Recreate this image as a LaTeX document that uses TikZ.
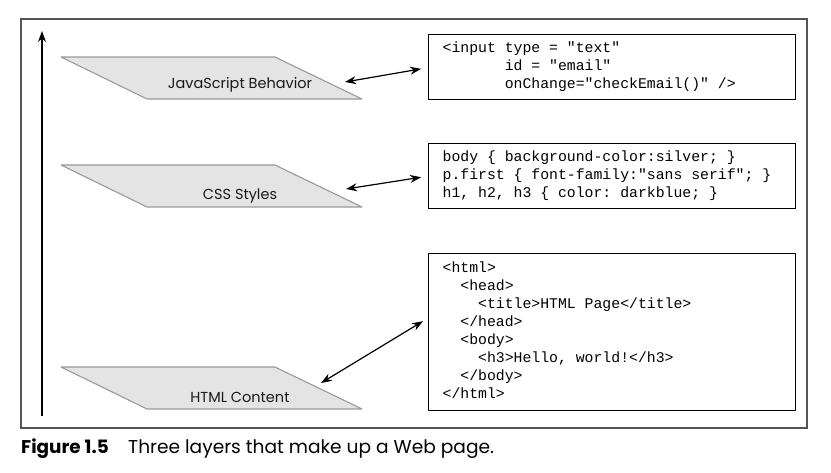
\documentclass[tikz,border=0pt]{standalone}
\usepackage{fontspec}
\setsansfont{Poppins}
\setmonofont{Liberation Mono}
\usetikzlibrary{arrows.meta,calc}
\definecolor{layerfill}{HTML}{E4E4E4}
\definecolor{layerdraw}{HTML}{9A9A9A}
\definecolor{framecol}{HTML}{555555}
\newcommand{\mycodefont}{\ttfamily\fontsize{14.8}{18}\selectfont}
\newcommand{\SP}{\hbox to 8.88pt{}}
\begin{document}
\begin{tikzpicture}[x=1pt,y=-1pt,
  layer/.style={fill=layerfill,draw=layerdraw,line width=1.1pt,line join=round},
  layerlabel/.style={font=\sffamily\fontsize{14.5}{16}\selectfont,text=black!90,inner sep=0pt},
  codebox/.style={draw=black,line width=1.3pt,anchor=north west,text width=339pt,
    inner xsep=14pt,inner ysep=0pt,align=left,font=\mycodefont},
  dbl/.style={line width=1.2pt,{Stealth[length=11pt,width=8pt]}-{Stealth[length=11pt,width=8pt]}}]
\useasboundingbox (0,0) rectangle (831,472);
% frame
\draw[framecol,line width=1.2pt] (21,19) rectangle (807,428);
% vertical arrow
\coordinate (vb) at (42,416);
\coordinate (vt) at (42,31);
\draw[line width=1.2pt,-{Stealth[length=11pt,width=8pt]}] (vb) -- (vt);
% layers
\draw[layer] (61,57) -- (275,57) -- (362,99) -- (147,99) -- cycle;
\node[layerlabel] (jsl) at (240,85) {JavaScript Behavior};
\draw[layer] (61,165) -- (275,165) -- (362,207) -- (147,207) -- cycle;
\node[layerlabel] (cssl) at (240,196) {CSS Styles};
\draw[layer] (61,367) -- (275,367) -- (362,409) -- (147,409) -- cycle;
\node[layerlabel] (htmll) at (240,397) {HTML Content};
% code boxes
\node[codebox,minimum height=65pt] (code1) at (428,34) {\begin{tabular}{@{}l@{}}
<input\SP type\SP=\SP"text"\\
\SP\SP\SP\SP\SP\SP\SP id\SP=\SP"email"\\
\SP\SP\SP\SP\SP\SP\SP onChange="checkEmail()"\SP/>
\end{tabular}};
\node[codebox,minimum height=65pt] (code2) at (428,143) {\begin{tabular}{@{}l@{}}
body\SP\{\SP background-color:silver;\SP\}\\
p.first\SP\{\SP font-family:"sans\SP serif";\SP\}\\
h1,\SP h2,\SP h3\SP\{\SP color:\SP darkblue;\SP\}
\end{tabular}};
\node[codebox,minimum height=157pt] (code3) at (428,253) {\begin{tabular}{@{}l@{}}
<html>\\
\SP\SP<head>\\
\SP\SP\SP\SP<title>HTML\SP Page</title>\\
\SP\SP</head>\\
\SP\SP<body>\\
\SP\SP\SP\SP<h3>Hello,\SP world!</h3>\\
\SP\SP</body>\\
</html>
\end{tabular}};
% connectors
\coordinate (a1) at (345,82);
\coordinate (a2) at (346,189);
\coordinate (a3) at (321,383);
\draw[dbl,shorten >=7pt] (a1) -- ($(code1.west)+(0,0.5)$);
\draw[dbl,shorten >=7pt] (a2) -- (code2.west);
\draw[dbl] (a3) -- ($(code3.west)+(-5,-11)$);
% caption
\node[anchor=base west,inner sep=0pt,font=\sffamily\bfseries\fontsize{18.4}{20}\selectfont] (fig) at (21,453) {Figure 1.5};
\node[anchor=base west,inner sep=0pt,font=\sffamily\fontsize{18.6}{20}\selectfont] (cap) at (128,453) {Three layers that make up a Web page.};
\end{tikzpicture}
\end{document}
